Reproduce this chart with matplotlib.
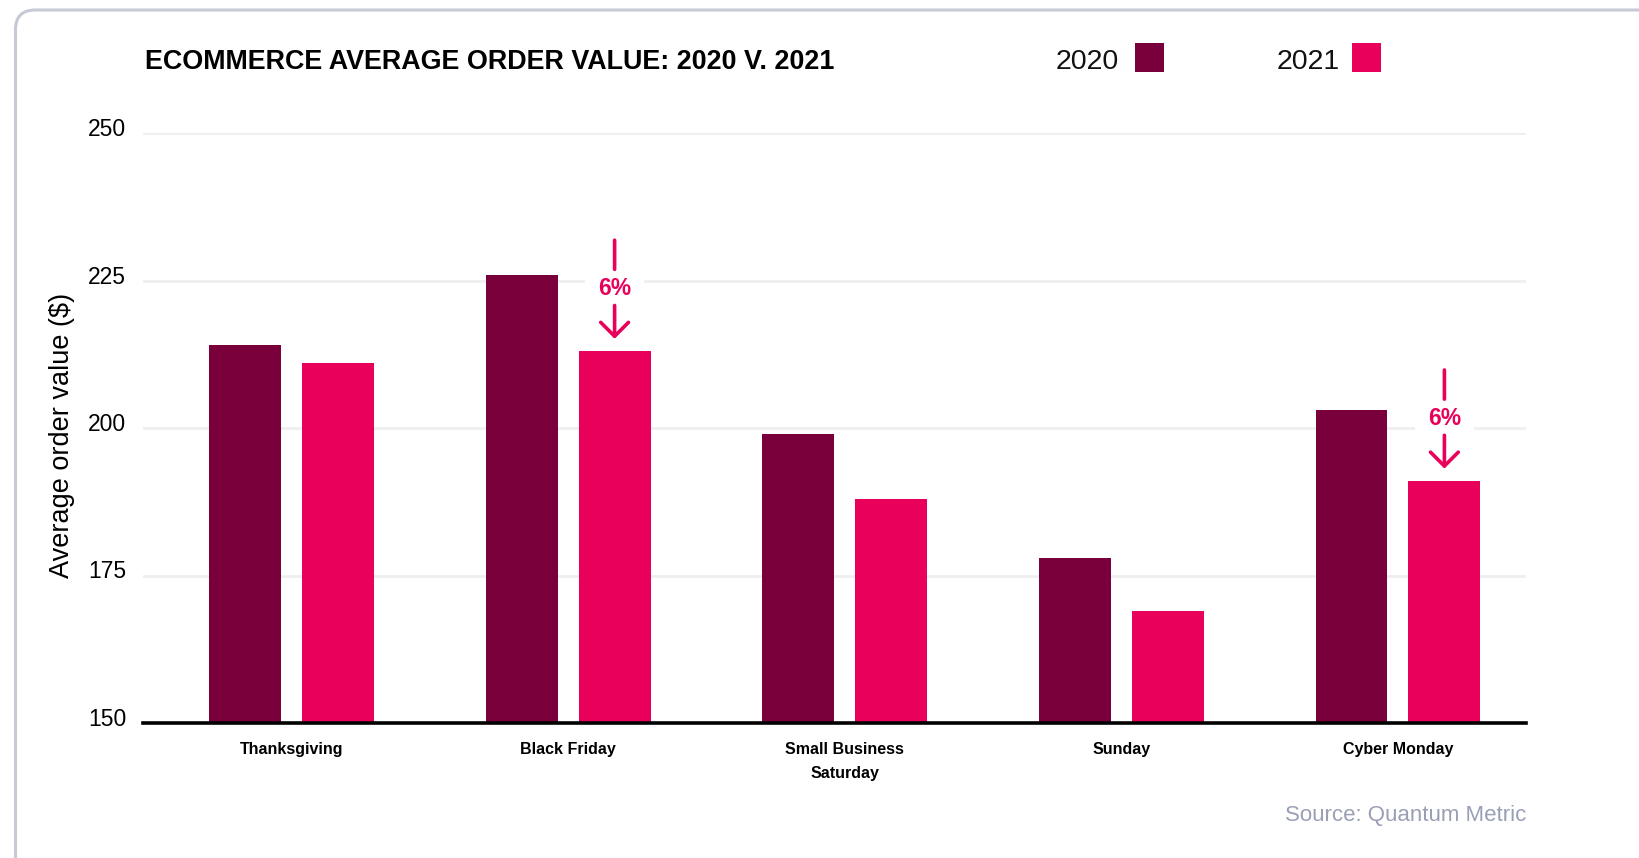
import matplotlib
matplotlib.use('Agg')
import matplotlib.pyplot as plt
from matplotlib.patches import FancyBboxPatch, Rectangle, ConnectionPatch
from matplotlib.transforms import offset_copy, ScaledTranslation
import numpy as np

plt.rcParams['font.family'] = ['Liberation Sans', 'DejaVu Sans']

# palette
C2020 = '#7a003c'
C2021 = '#e8005a'
GRID = '#efefef'
SOURCE = '#99a0b4'
CARD = '#c6cad6'

categories = ['Thanksgiving', 'Black Friday', 'Small Business\nSaturday', 'Sunday', 'Cyber Monday']
aov_2020 = [214, 226, 199, 178, 203]
aov_2021 = [211, 213, 188, 169, 191]
yticks = [150, 175, 200, 225, 250]
# drops called out above the 2021 bars: (category index, label)
callouts = [(1, '6%'), (4, '6%')]

W, H = 1640, 858
fig = plt.figure(figsize=(W / 100, H / 100), dpi=100, facecolor='white')

# card outline running off the right and bottom edges
card = FancyBboxPatch((15.5 / W, -0.2), 1.2, 1 + 0.2 - 10 / H,
                      boxstyle='round,pad=0,rounding_size=0.012',
                      transform=fig.transFigure, facecolor='none',
                      edgecolor=CARD, linewidth=2.2, mutation_aspect=W / H)
fig.patches.append(card)

ax = fig.add_axes([143 / W, 1 - 723 / H, (1526 - 143) / W, (723 - 133) / H])
ax.set_facecolor('none')

x = np.arange(len(categories))
bw = 0.26
off = 0.168
ax.bar(x - off, aov_2020, bw, bottom=0, color=C2020, zorder=3)
ax.bar(x + off, aov_2021, bw, bottom=0, color=C2021, zorder=3)

ax.set_xlim(-0.537, 4.463)
ax.set_ylim(150, 250)
ax.set_yticks(yticks)
ax.set_yticklabels([str(t) for t in yticks], fontsize=16.5)
ax.set_xticks(x)
ax.set_xticklabels(categories, fontsize=11.5, fontweight='bold', linespacing=1.75)
ax.tick_params(axis='both', length=0)
ax.tick_params(axis='y', pad=12)
ax.tick_params(axis='x', pad=14)
# numbers sit slightly above their gridlines
lift = ScaledTranslation(0, 6 / 100, fig.dpi_scale_trans)
for lbl in ax.get_yticklabels():
    lbl.set_transform(lbl.get_transform() + lift)

for t in yticks[1:]:
    ax.axhline(t, color=GRID, linewidth=2, zorder=1)
for s in ['top', 'right', 'left']:
    ax.spines[s].set_visible(False)
ax.spines['bottom'].set_linewidth(2.6)
ax.spines['bottom'].set_color('black')
ax.spines['bottom'].set_zorder(4)

ax.set_ylabel('Average order value ($)', fontsize=19.5)
ax.yaxis.set_label_coords(-0.049, 0.487)

# drop callouts: tick line, label, arrow (offsets in points above the bar top)
for i, lab in callouts:
    xi = x[i] + off
    top = aov_2021[i]
    t_hi = offset_copy(ax.transData, fig=fig, x=0, y=80, units='points')
    t_lo = offset_copy(ax.transData, fig=fig, x=0, y=59, units='points')
    tick = ConnectionPatch((xi, top), (xi, top), coordsA=t_hi, coordsB=t_lo,
                           color=C2021, lw=2.6, arrowstyle='-',
                           shrinkA=0, shrinkB=0, zorder=6)
    ax.add_artist(tick)
    ax.annotate(lab, xy=(xi, top), xycoords='data',
                xytext=(0, 45), textcoords='offset points',
                ha='center', va='center', fontsize=16.5, fontweight='bold',
                color=C2021, zorder=5,
                bbox=dict(boxstyle='square,pad=0.55', facecolor='white',
                          edgecolor='none'))
    ax.annotate('', xy=(xi, top), xycoords='data',
                xytext=(0, 33), textcoords='offset points',
                arrowprops=dict(arrowstyle='->,head_length=1.0,head_width=1.0',
                                color=C2021, lw=2.6, shrinkA=0, shrinkB=9),
                annotation_clip=False, zorder=6)

# title and legend along the top
fig.text(145 / W, 1 - 62 / H, 'ECOMMERCE AVERAGE ORDER VALUE: 2020 V. 2021',
         ha='left', va='center', fontsize=19.4, fontweight='bold', color='black')

for lab, col, tx, sx in [('2020', C2020, 1119, 1135), ('2021', C2021, 1340, 1352)]:
    fig.text(tx / W, 1 - 62 / H, lab, ha='right', va='center', fontsize=20.5, color='#111111')
    fig.patches.append(Rectangle((sx / W, 1 - 72 / H), 29 / W, 29 / H,
                                 transform=fig.transFigure, facecolor=col,
                                 edgecolor='none'))

fig.text(1526 / W, 1 - 816 / H, 'Source: Quantum Metric', ha='right', va='center',
         fontsize=16, color=SOURCE)

fig.savefig('out.png', dpi=100, facecolor='white')
